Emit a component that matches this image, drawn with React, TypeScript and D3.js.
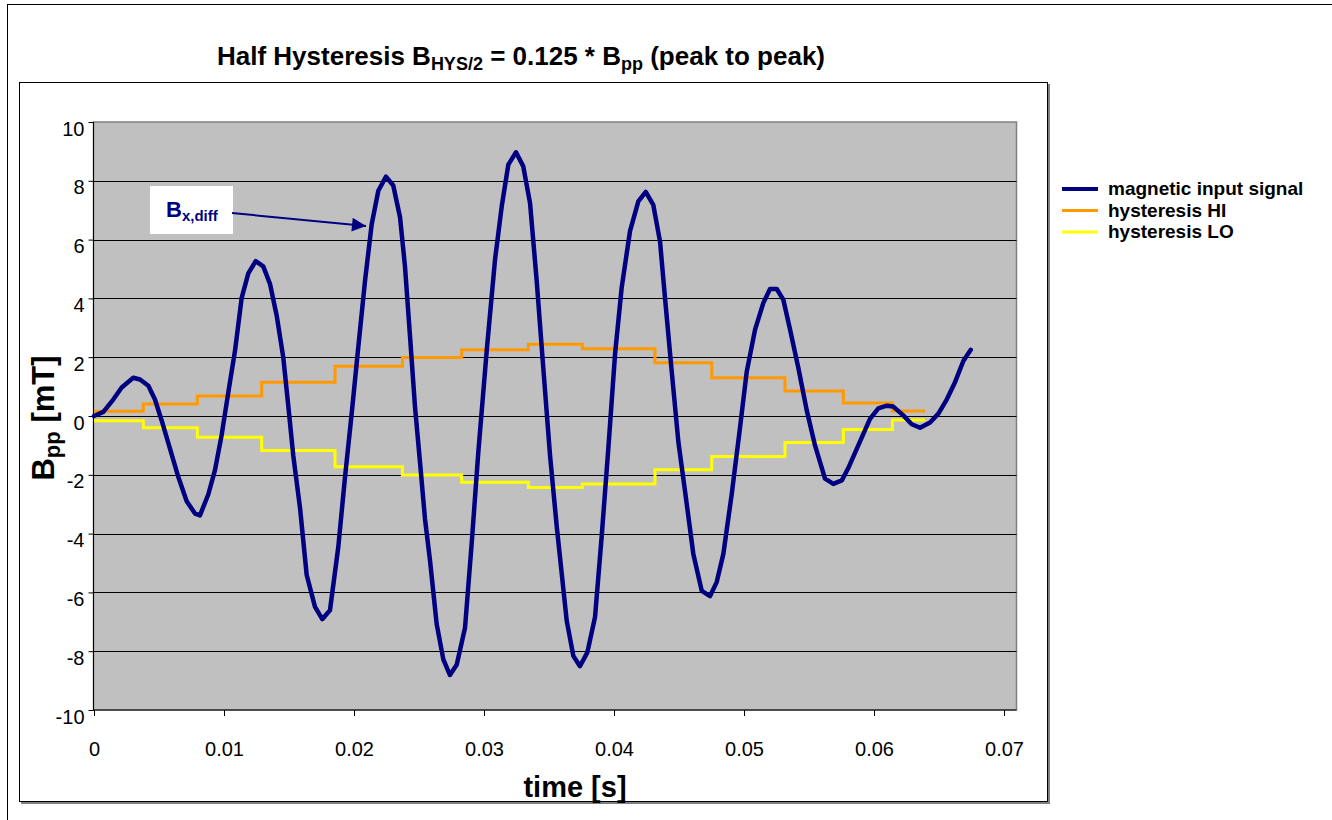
import { useRef, useEffect } from 'react'
import * as d3 from 'd3'

// magnetic input signal (time in s, value in mT)
const signalTime = [
  0, 0.00072, 0.00148, 0.00213, 0.00302, 0.00354, 0.00418, 0.00469, 0.00521, 0.00585,
  0.00648, 0.00713, 0.00777, 0.00815, 0.00879, 0.00931, 0.00982, 0.01033, 0.01085, 0.01136,
  0.01187, 0.01244, 0.01302, 0.01354, 0.01405, 0.01456, 0.01495, 0.01533, 0.01585, 0.01636,
  0.017, 0.01756, 0.01815, 0.01879, 0.01931, 0.01982, 0.02033, 0.02085, 0.02136, 0.02187,
  0.02246, 0.02302, 0.02354, 0.02392, 0.02431, 0.02469, 0.02508, 0.02546, 0.02585, 0.02636,
  0.02687, 0.02738, 0.0279, 0.02854, 0.02905, 0.02956, 0.03021, 0.03085, 0.03136, 0.03187,
  0.03246, 0.03302, 0.03354, 0.03405, 0.03456, 0.03508, 0.03559, 0.03636, 0.03687, 0.03738,
  0.03795, 0.03854, 0.03905, 0.03956, 0.04008, 0.04059, 0.04123, 0.04187, 0.04244, 0.04302,
  0.04354, 0.04392, 0.04444, 0.04495, 0.04546, 0.0461, 0.04675, 0.04738, 0.0479, 0.04841,
  0.04905, 0.04969, 0.05021, 0.05085, 0.05148, 0.052, 0.05252, 0.05302, 0.05354, 0.05418,
  0.05482, 0.05546, 0.05623, 0.05687, 0.05752, 0.05802, 0.05879, 0.05969, 0.06033, 0.06098,
  0.06148, 0.06225, 0.0629, 0.06354, 0.06431, 0.06495, 0.06559, 0.06623, 0.06687, 0.06744,
]
const signalValue = [
  0.0, 0.14, 0.56, 0.97, 1.3, 1.24, 1.03, 0.56, -0.16, -1.12,
  -2.07, -2.9, -3.32, -3.38, -2.67, -1.83, -0.64, 0.8, 2.23, 4.02,
  4.85, 5.27, 5.09, 4.49, 3.42, 1.99, 0.32, -1.35, -3.14, -5.41,
  -6.49, -6.91, -6.61, -4.46, -2.07, 0.08, 2.35, 4.61, 6.52, 7.66,
  8.14, 7.84, 6.76, 5.09, 2.7, 0.32, -1.59, -3.5, -4.93, -7.08,
  -8.28, -8.81, -8.46, -7.2, -4.34, -1.24, 2.23, 5.33, 7.12, 8.55,
  8.97, 8.49, 7.24, 4.61, 1.63, -1.35, -3.74, -6.96, -8.16, -8.51,
  -8.04, -6.84, -4.1, -1.12, 2.11, 4.37, 6.29, 7.3, 7.62, 7.18,
  5.93, 4.02, 1.51, -0.88, -2.55, -4.69, -5.95, -6.13, -5.65, -4.69,
  -2.67, -0.4, 1.51, 2.94, 3.84, 4.32, 4.32, 3.96, 2.94, 1.63,
  0.2, -1.0, -2.13, -2.31, -2.19, -1.77, -1.0, -0.1, 0.26, 0.35,
  0.32, 0.02, -0.28, -0.4, -0.22, 0.08, 0.56, 1.15, 1.87, 2.25,
]

// hysteresis thresholds (step starts)
const stepTime = [0, 0.00379, 0.00795, 0.0129, 0.01854, 0.02372, 0.02828, 0.03341, 0.03756, 0.04315, 0.04752, 0.05315, 0.05764, 0.06141]
const stepEnd = 0.06392
const hiValue = [0.16, 0.41, 0.68, 1.15, 1.69, 1.99, 2.25, 2.44, 2.29, 1.81, 1.3, 0.85, 0.44, 0.17]
const loValue = [-0.16, -0.4, -0.72, -1.17, -1.73, -2.01, -2.25, -2.43, -2.31, -1.83, -1.38, -0.9, -0.46, -0.14]

const yTicks = [-10, -8, -6, -4, -2, 0, 2, 4, 6, 8, 10]
const xTicks = [0, 0.01, 0.02, 0.03, 0.04, 0.05, 0.06, 0.07]
const xTickLabels = ['0', '0.01', '0.02', '0.03', '0.04', '0.05', '0.06', '0.07']
const legendNames = ['magnetic input signal', 'hysteresis HI', 'hysteresis LO']
const seriesColors = ['#000080', '#FF9900', '#FFFF00']

const FONT = "Arial, 'Liberation Sans', sans-serif"

export default function App() {
  const svgRef = useRef<SVGSVGElement>(null)

  useEffect(() => {
    if (!svgRef.current) return
    const svg = d3.select(svgRef.current)
    svg.selectAll('*').remove()

    const x = d3.scaleLinear().domain([0, 0.07092]).range([94, 1016])
    const y = d3.scaleLinear().domain([-10, 10]).range([710, 122])
    const left = 93.5, right = 1016.5, top = 122, bottom = 710

    // outer frame + chart frame
    svg.append('rect').attr('x', 7.5).attr('y', 4.5).attr('width', 1340).attr('height', 830)
      .attr('fill', '#fff').attr('stroke', '#000')
    svg.append('rect').attr('x', 21).attr('y', 84).attr('width', 1029).attr('height', 720)
      .attr('fill', '#808080')
    svg.append('rect').attr('x', 19.5).attr('y', 82.5).attr('width', 1028).attr('height', 719)
      .attr('fill', '#fff').attr('stroke', '#000')

    // plot area
    svg.append('rect').attr('x', left).attr('y', top).attr('width', right - left).attr('height', bottom - top)
      .attr('fill', '#C0C0C0').attr('stroke', '#808080').attr('stroke-width', 1.5)

    // gridlines
    svg.append('g').selectAll('line')
      .data(yTicks.filter(d => d > -10 && d < 10))
      .join('line')
      .attr('x1', left).attr('x2', right)
      .attr('y1', d => Math.round(y(d)) + 0.5).attr('y2', d => Math.round(y(d)) + 0.5)
      .attr('stroke', '#000').attr('stroke-width', 1)

    // y axis
    const gy = svg.append('g').attr('transform', `translate(${left},0)`)
      .call(d3.axisLeft(y).tickValues(yTicks).tickSize(5).tickPadding(4).tickFormat(d => String(d)))
    gy.select('.domain').attr('stroke', '#000').attr('d', `M0,${top}V${bottom}`)
    gy.selectAll('.tick line').attr('stroke', '#000')
    gy.selectAll('.tick text')
      .attr('font-family', FONT).attr('font-size', 20).attr('fill', '#000').attr('dy', '0.65em')

    // x axis
    const gx = svg.append('g').attr('transform', `translate(0,${bottom})`)
      .call(d3.axisBottom(x).tickValues(xTicks).tickSize(6).tickPadding(26)
        .tickFormat((_, i) => xTickLabels[i]))
    gx.select('.domain').attr('stroke', '#000').attr('d', `M${left},0H${right}`)
    gx.selectAll('.tick line').attr('stroke', '#000')
    gx.selectAll('.tick text').attr('font-family', FONT).attr('font-size', 20).attr('fill', '#000')

    // series
    const line = d3.line<[number, number]>().x(d => x(d[0])).y(d => y(d[1]))
    const step = d3.line<[number, number]>().x(d => x(d[0])).y(d => y(d[1])).curve(d3.curveStepAfter)
    const stepPts = (vals: number[]) => {
      const p: [number, number][] = stepTime.map((t, i) => [t, vals[i]])
      p.push([stepEnd, vals[vals.length - 1]])
      return p
    }

    svg.append('path').attr('d', step(stepPts(hiValue)))
      .attr('fill', 'none').attr('stroke', seriesColors[1]).attr('stroke-width', 3)
    svg.append('path').attr('d', step(stepPts(loValue)))
      .attr('fill', 'none').attr('stroke', seriesColors[2]).attr('stroke-width', 3)
    svg.append('path').attr('d', line(signalTime.map((t, i) => [t, signalValue[i]])))
      .attr('fill', 'none').attr('stroke', seriesColors[0]).attr('stroke-width', 4.5)
      .attr('stroke-linejoin', 'round').attr('stroke-linecap', 'round')

    // annotation
    svg.append('defs').append('marker')
      .attr('id', 'arrow').attr('viewBox', '0 0 10 10').attr('refX', 10).attr('refY', 5)
      .attr('markerWidth', 10).attr('markerHeight', 7).attr('markerUnits', 'strokeWidth')
      .attr('orient', 'auto')
      .append('path').attr('d', 'M0,0L10,5L0,10Z').attr('fill', '#000080')
    svg.append('rect').attr('x', 150).attr('y', 186).attr('width', 83).attr('height', 48).attr('fill', '#fff')
    const ann = svg.append('text').attr('x', 166).attr('y', 217)
      .attr('font-family', FONT).attr('font-weight', 'bold').attr('fill', '#000080')
    ann.append('tspan').attr('font-size', 22).text('B')
    ann.append('tspan').attr('font-size', 15).attr('dy', 4).text('x,diff')
    svg.append('line').attr('x1', 232).attr('y1', 213).attr('x2', 366).attr('y2', 226)
      .attr('stroke', '#000080').attr('stroke-width', 2).attr('marker-end', 'url(#arrow)')

    // title
    const title = svg.append('text').attr('x', 521).attr('y', 65).attr('text-anchor', 'middle')
      .attr('font-family', FONT).attr('font-weight', 'bold').attr('font-size', 26).attr('fill', '#000')
    title.append('tspan').text('Half Hysteresis B')
    title.append('tspan').attr('font-size', 18).attr('dy', 5).text('HYS/2')
    title.append('tspan').attr('dy', -5).text(' = 0.125 * B')
    title.append('tspan').attr('font-size', 18).attr('dy', 5).text('pp')
    title.append('tspan').attr('dy', -5).text(' (peak to peak)')

    // axis titles
    svg.append('text').attr('x', 575).attr('y', 797).attr('text-anchor', 'middle')
      .attr('font-family', FONT).attr('font-weight', 'bold').attr('font-size', 29).text('time [s]')
    const yl = svg.append('text').attr('transform', 'translate(54,418) rotate(-90)').attr('text-anchor', 'middle')
      .attr('font-family', FONT).attr('font-weight', 'bold').attr('font-size', 31)
    yl.append('tspan').text('B')
    yl.append('tspan').attr('font-size', 22).attr('dy', 6).text('pp')
    yl.append('tspan').attr('dy', -6).text(' [mT]')

    // legend
    const lg = svg.append('g').selectAll('g').data(legendNames).join('g')
      .attr('transform', (_, i) => `translate(1062,${189 + i * 21.5})`)
    lg.append('line').attr('x1', 0).attr('x2', 36).attr('y1', 0).attr('y2', 0)
      .attr('stroke', (_, i) => seriesColors[i]).attr('stroke-width', (_, i) => (i === 0 ? 4 : 3))
    lg.append('text').attr('x', 46).attr('y', 6)
      .attr('font-family', FONT).attr('font-weight', 'bold').attr('font-size', 19).text(d => d)
  }, [])

  return (
    <div style={{ position: 'fixed', left: 0, top: 0 }}>
      <svg ref={svgRef} width={1332} height={820} style={{ display: 'block' }} />
    </div>
  )
}
